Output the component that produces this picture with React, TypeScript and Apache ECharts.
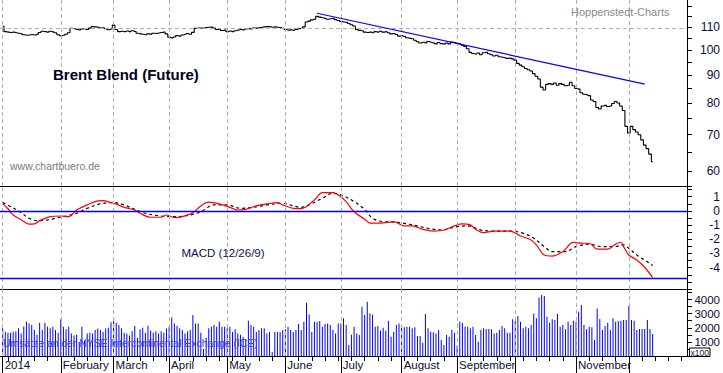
import React, { useEffect, useRef } from 'react';
import * as echarts from 'echarts';

const FONT = '"Liberation Sans", Arial, Helvetica, sans-serif';

// ---- axis texts ----
const monthLabels = ['2014', 'February', 'March', 'April', 'May', 'June', 'July', 'August', 'September', '', 'November', ''];
const priceTicks = [60, 65, 70, 75, 80, 85, 90, 95, 100, 105, 110, 115, 120];
const priceLabels = [60, 70, 80, 90, 100, 110];
const priceGridLevel = 110;
const macdLabels = [-4, -3, -2, -1, 0, 1];
const macdBands = [0, -4.75];
const volumeLabels = [1000, 2000, 3000, 4000];

// ---- Brent daily closes (USD) ----
const janClose = [110.5, 108.0, 107.8, 107.6, 107.8, 107.5, 107.3, 107.0, 106.6, 106.4, 106.5, 106.7, 106.5, 106.8, 107.6, 108.2, 108.0, 107.8, 108.2, 107.9, 107.5, 106.6];
const febClose = [106.2, 106.4, 106.8, 107.5, 109.5, 109.3, 109.0, 108.8, 109.2, 109.4, 109.0, 109.6, 110.3, 110.2, 110.0, 109.7, 109.8, 109.3, 108.9, 109.2];
const marClose = [111.0, 109.0, 108.0, 108.2, 108.0, 108.3, 108.0, 108.4, 108.1, 107.3, 107.0, 106.8, 106.6, 107.0, 106.9, 107.3, 107.2, 107.4, 107.6, 107.8, 107.0];
const aprClose = [105.5, 105.2, 105.6, 106.2, 106.0, 106.5, 106.8, 107.2, 106.8, 107.7, 109.5, 109.6, 109.7, 109.6, 109.9, 110.0, 110.1, 109.7, 109.0, 109.1, 108.5, 108.7];
const mayClose = [108.0, 108.3, 108.0, 108.4, 108.7, 109.0, 108.8, 109.2, 109.4, 109.2, 109.6, 109.6, 109.8, 110.0, 110.2, 110.3, 110.3, 110.0, 110.2, 110.0, 109.9, 109.5];
const junClose = [109.0, 108.7, 108.8, 108.6, 109.0, 109.3, 109.5, 110.2, 112.5, 112.9, 113.5, 113.8, 115.2, 114.8, 114.5, 114.2, 113.8, 114.0, 114.2, 113.6, 113.2];
const julClose = [112.8, 112.5, 112.3, 111.8, 111.2, 110.6, 109.0, 108.6, 108.4, 107.8, 107.6, 107.8, 107.5, 108.0, 107.8, 108.2, 107.8, 108.0, 107.5, 107.0, 107.2, 106.7, 106.0];
const augClose = [106.3, 105.8, 105.3, 105.0, 104.8, 104.2, 103.5, 103.0, 103.3, 103.0, 103.6, 103.3, 103.0, 102.6, 103.2, 102.7, 102.5, 103.0, 102.6, 103.4, 103.2];
const sepClose = [102.8, 102.5, 102.0, 101.5, 100.5, 99.0, 98.5, 98.3, 98.7, 98.0, 98.8, 99.0, 98.4, 98.0, 97.5, 97.8, 97.2, 97.0, 96.8, 96.5, 96.6, 96.3];
const octClose = [95.8, 94.5, 93.8, 93.2, 92.5, 92.0, 91.5, 90.5, 89.5, 88.5, 85.5, 84.5, 86.5, 86.8, 86.5, 87.0, 86.2, 86.8, 86.5, 86.0, 86.2, 87.3, 86.0];
const novClose = [85.0, 84.8, 83.5, 83.0, 82.8, 82.5, 81.0, 80.5, 78.5, 78.0, 79.0, 79.2, 78.8, 79.0, 79.8, 80.5, 80.0, 79.0, 77.5, 72.5];
const decClose = [70.5, 72.5, 71.5, 70.8, 70.0, 68.5, 67.0, 66.0, 64.5, 62.5];

// ---- daily volume (x100 contracts) ----
const janVol = [1960, 1720, 1650, 1650, 1720, 1750, 1960, 1600, 2100, 2430, 2310, 2190, 1840, 1500, 2360, 1840, 2360, 2080, 1960, 2080, 1840, 1650];
const febVol = [2600, 2080, 1890, 2080, 1600, 1450, 1500, 1000, 2080, 1100, 1600, 1650, 1600, 1850, 1950, 1850, 1700, 1950, 2000, 2400];
const marVol = [2730, 2350, 2190, 1960, 1650, 1600, 1450, 1750, 2150, 1300, 1900, 2000, 1650, 2150, 1800, 1650, 1750, 1600, 1750, 1650, 1950];
const aprVol = [2100, 2730, 2300, 2150, 1960, 1850, 1600, 1750, 1850, 2900, 2300, 2300, 1650, 500, 1300, 1960, 2080, 2190, 2080, 2430, 2080, 2080];
const mayVol = [1960, 2080, 1700, 1890, 1600, 1500, 1350, 1200, 2500, 2190, 2080, 1700, 1840, 1960, 1960, 1600, 1700, 300, 1700, 1700, 1700, 1840];
const junVol = [1890, 2080, 1840, 1700, 1840, 2260, 1840, 2430, 3770, 2950, 1700, 2430, 2430, 2480, 2080, 2260, 2300, 2190, 1840, 1600, 2300];
const julVol = [2300, 2670, 2190, 780, 1500, 2080, 1600, 1490, 3490, 2900, 3850, 3020, 2950, 2080, 2120, 1790, 2000, 1790, 2500, 1370, 1720, 2190, 2310];
const augVol = [2120, 2030, 2080, 2080, 1960, 2030, 1415, 1415, 945, 2970, 1960, 1720, 1675, 1600, 1840, 1130, 780, 1490, 1370, 1840, 1650];
const sepVol = [710, 2430, 2360, 2080, 2080, 1960, 2080, 1490, 1010, 1840, 1960, 1910, 1910, 1900, 1600, 1650, 1840, 2120, 1960, 1650, 1650, 2600];
const octVol = [2500, 2830, 2430, 1960, 2080, 1960, 2190, 3020, 2670, 4150, 4320, 4250, 2780, 2360, 2600, 2550, 2970, 2080, 2190, 1890, 2430, 2190, 2500];
const novVol = [2430, 3140, 3610, 2190, 1890, 2080, 2030, 1130, 3370, 2620, 1840, 2120, 2360, 1840, 2670, 2430, 2480, 2500, 2550, 2550];
const decVol = [3540, 2550, 2500, 1840, 1910, 1910, 1910, 2550, 1910, 1560];

// ---- MACD (12/26/9), read at trading-day indices ----
const macdDays = [0, 2, 4, 7, 10, 12, 14, 18, 22, 25, 28, 32, 36, 38, 41, 43, 46, 50, 52, 56, 60, 62, 65, 68, 72, 75, 78, 82, 86, 89, 92, 96, 100, 104, 106, 110, 113, 118, 121, 125, 128, 130, 133, 137, 139, 143, 148, 152, 155, 159, 163, 167, 171, 174, 177, 179, 182, 186, 192, 196, 200, 202, 205, 208, 212, 216, 220, 222, 225, 229, 232, 234, 235, 237, 240, 243, 246];
const macdValues = [0.53, 0.15, -0.29, -0.62, -0.94, -0.92, -0.69, -0.41, -0.36, -0.41, 0.06, 0.42, 0.70, 0.72, 0.58, 0.47, 0.25, 0.06, -0.17, -0.45, -0.45, -0.29, -0.48, -0.41, -0.13, 0.35, 0.61, 0.49, 0.25, 0.06, 0.11, 0.35, 0.49, 0.58, 0.42, 0.18, 0.16, 0.77, 1.28, 1.28, 1.0, 0.65, -0.06, -0.59, -0.87, -0.87, -0.76, -1.06, -1.06, -1.30, -1.42, -1.35, -1.06, -0.92, -0.99, -1.30, -1.53, -1.42, -1.42, -1.77, -2.05, -2.40, -3.11, -3.18, -2.87, -2.22, -2.28, -2.28, -2.70, -2.70, -2.33, -2.21, -2.52, -3.11, -3.46, -3.97, -4.70];
const signalDays = [0, 3, 7, 10, 13, 17, 20, 24, 28, 32, 37, 42, 46, 49, 54, 60, 66, 71, 75, 80, 85, 90, 95, 100, 106, 110, 113, 116, 121, 125, 129, 133, 137, 140, 144, 149, 154, 161, 166, 172, 176, 181, 186, 192, 197, 201, 205, 208, 213, 217, 222, 227, 231, 235, 237, 240, 244, 246];
const signalValues = [0.58, 0.30, -0.13, -0.52, -0.69, -0.64, -0.52, -0.36, -0.17, 0.18, 0.49, 0.58, 0.42, 0.18, -0.17, -0.36, -0.41, -0.29, -0.06, 0.42, 0.42, 0.18, 0.25, 0.42, 0.54, 0.35, 0.25, 0.42, 0.89, 1.24, 1.05, 0.65, 0.11, -0.52, -0.76, -0.80, -0.94, -1.23, -1.35, -1.11, -1.06, -1.35, -1.42, -1.42, -1.58, -1.93, -2.52, -2.87, -2.87, -2.52, -2.35, -2.52, -2.52, -2.40, -2.63, -3.11, -3.58, -3.85];

// ---- downtrend line ----
const trendFrom = { day: 119, price: 116.7 };
const trendTo = { day: 243, price: 86.6 };

const closes = [...janClose, ...febClose, ...marClose, ...aprClose, ...mayClose, ...junClose, ...julClose, ...augClose, ...sepClose, ...octClose, ...novClose, ...decClose];
const volumes = [...janVol, ...febVol, ...marVol, ...aprVol, ...mayVol, ...junVol, ...julVol, ...augVol, ...sepVol, ...octVol, ...novVol, ...decVol];

// trading calendar: business days from 2 Jan 2014 to 31 Dec 2014
const TOTAL_DAYS = 260;
function tradingDays(n: number): Date[] {
  const out: Date[] = [];
  const d = new Date(Date.UTC(2014, 0, 2));
  while (out.length < n) {
    const wd = d.getUTCDay();
    if (wd !== 0 && wd !== 6) out.push(new Date(d.getTime()));
    d.setUTCDate(d.getUTCDate() + 1);
  }
  return out;
}
const days = tradingDays(TOTAL_DAYS);
const monthStarts: number[] = [];
const mondays: number[] = [];
days.forEach((d, i) => {
  if (i === 0 || d.getUTCMonth() !== days[i - 1].getUTCMonth()) monthStarts.push(i);
  if (d.getUTCDay() === 1) mondays.push(i);
});

const L = (v: number) => Math.log10(v);
const LABEL_COLOR = '#0c0c34';
const GRID_LINE = { color: '#b4aab6', type: [4, 3] as any, width: 1 };

function buildOption(): any {
  const xMin = -1;
  const xMax = TOTAL_DAYS - 1;
  const monthLines = monthStarts.map((m) => ({ xAxis: m, lineStyle: GRID_LINE }));
  const baseX = {
    type: 'value', min: xMin, max: xMax,
    splitLine: { show: false }, axisTick: { show: false }, axisLabel: { show: false },
    axisLine: { show: true, onZero: false, lineStyle: { color: '#000', width: 1.2 } },
  };
  const yLabel = {
    color: LABEL_COLOR, fontSize: 12, fontFamily: FONT, align: 'right', margin: 33, hideOverlap: false,
  };
  const yLine = { show: true, onZero: false, lineStyle: { color: '#000', width: 1 } };
  const yTick = { show: true, length: 5, inside: false, lineStyle: { color: '#000' } };

  return {
    animation: false,
    backgroundColor: '#ffffff',
    grid: [
      { left: 0, right: 36, top: 0, height: 186, containLabel: false, outerBoundsMode: 'none' },
      { left: 0, right: 36, top: 186, height: 103, containLabel: false, outerBoundsMode: 'none' },
      { left: 0, right: 36, top: 289, height: 67, containLabel: false, outerBoundsMode: 'none' },
    ],
    xAxis: [
      { ...baseX, gridIndex: 0, position: 'bottom' },
      { ...baseX, gridIndex: 1, position: 'bottom' },
      {
        ...baseX, gridIndex: 2, position: 'bottom',
        axisTick: { show: true, customValues: monthStarts, length: 17, lineStyle: { color: '#000' } },
        axisLabel: {
          show: true, customValues: monthStarts, align: 'left', margin: 3, padding: [0, 0, 0, 2],
          color: LABEL_COLOR, fontSize: 11.5, fontFamily: FONT, hideOverlap: false,
          formatter: (v: number) => {
            const k = monthStarts.indexOf(Math.round(v));
            return k >= 0 ? monthLabels[k] : '';
          },
        },
      },
      {
        ...baseX, gridIndex: 2, position: 'bottom',
        axisLine: { show: false, onZero: false },
        axisTick: { show: true, customValues: mondays, length: 5, lineStyle: { color: '#000' } },
      },
    ],
    yAxis: [
      {
        type: 'value', gridIndex: 0, position: 'right', min: L(56.4), max: L(123.4),
        splitLine: { show: false }, axisLine: yLine,
        axisTick: { ...yTick, customValues: priceTicks.map(L) },
        axisLabel: { ...yLabel, customValues: priceLabels.map(L), formatter: (v: number) => String(Math.round(Math.pow(10, v))) },
      },
      {
        type: 'value', gridIndex: 1, position: 'right', min: -5.5, max: 1.75, interval: 0.5,
        splitLine: { show: false }, axisLine: yLine, axisTick: yTick,
        axisLabel: {
          ...yLabel, showMinLabel: true, showMaxLabel: true,
          formatter: (v: number) => (macdLabels.includes(v) ? String(v) : ''),
        },
      },
      {
        type: 'value', gridIndex: 2, position: 'right', min: 0, max: 4750, interval: 500,
        splitLine: { show: false }, axisLine: yLine, axisTick: yTick,
        axisLabel: { ...yLabel, fontSize: 11.5, formatter: (v: number) => (volumeLabels.includes(v) ? String(v) : '') },
      },
    ],
    series: [
      {
        type: 'line', name: 'Brent', xAxisIndex: 0, yAxisIndex: 0, step: 'middle',
        data: closes.map((c, i) => [i, L(c)]), showSymbol: false, symbol: 'none',
        lineStyle: { color: '#000', width: 1.1 }, z: 3,
        markLine: {
          silent: true, symbol: ['none', 'none'], label: { show: false }, animation: false,
          data: [
            ...monthLines,
            { yAxis: L(priceGridLevel), lineStyle: GRID_LINE },
            [
              { coord: [trendFrom.day, L(trendFrom.price)], lineStyle: { color: '#0000ff', width: 1.2, type: 'solid' } },
              { coord: [trendTo.day, L(trendTo.price)] },
            ],
          ],
        },
      },
      {
        type: 'line', name: 'MACD', xAxisIndex: 1, yAxisIndex: 1, smooth: 0.35,
        data: macdDays.map((d, i) => [d, macdValues[i]]), showSymbol: false, symbol: 'none',
        lineStyle: { color: '#ff0000', width: 1.2 }, z: 4,
        markLine: {
          silent: true, symbol: ['none', 'none'], label: { show: false }, animation: false,
          data: [
            ...monthLines,
            ...macdBands.map((b) => ({ yAxis: b, lineStyle: { color: '#0000ff', width: 1.3, type: 'solid' } })),
          ],
        },
      },
      {
        type: 'line', name: 'Signal', xAxisIndex: 1, yAxisIndex: 1, smooth: 0.35,
        data: signalDays.map((d, i) => [d, signalValues[i]]), showSymbol: false, symbol: 'none',
        lineStyle: { color: '#000', width: 1.2, type: [3, 3] }, z: 3,
      },
      {
        type: 'bar', name: 'Volume', xAxisIndex: 2, yAxisIndex: 2, barWidth: 1,
        data: volumes.map((v, i) => [i, v]), itemStyle: { color: '#0000ff' }, z: 3,
        markLine: {
          silent: true, symbol: ['none', 'none'], label: { show: false }, animation: false,
          data: monthLines,
        },
      },
    ],
    graphic: [
      { type: 'text', x: 53, y: 74, z: 100, style: { text: 'Brent Blend (Future)', fill: '#000018', fontSize: 15, fontWeight: 'bold', fontFamily: FONT, verticalAlign: 'middle', align: 'left' } },
      { type: 'text', x: 571, y: 11.5, z: 100, style: { text: 'Hoppenstedt-Charts', fill: '#8a8a8a', fontSize: 11, fontFamily: FONT, verticalAlign: 'middle', align: 'left' } },
      { type: 'text', x: 10, y: 166, z: 100, style: { text: 'www.chartbuero.de', fill: '#7a7a7a', fontSize: 10.5, fontFamily: FONT, verticalAlign: 'middle', align: 'left' } },
      { type: 'text', x: 181.5, y: 252.5, z: 100, style: { text: 'MACD (12/26/9)', fill: '#10104a', fontSize: 11.5, fontFamily: FONT, verticalAlign: 'middle', align: 'left' } },
      { type: 'text', x: 3, y: 343.5, z: 100, style: { text: 'Umsätze an der NYSE Intercontinental Exchange (ICE)', fill: '#4040d8', fontSize: 10.4, fontFamily: FONT, verticalAlign: 'middle', align: 'left' } },
      { type: 'rect', z: 100, shape: { x: 689.5, y: 348, width: 20.5, height: 8.5 }, style: { fill: '#ffffff', stroke: '#000', lineWidth: 1 } },
      { type: 'text', x: 699.75, y: 352.5, z: 101, style: { text: 'x100', fill: '#10103a', fontSize: 8.5, fontFamily: FONT, verticalAlign: 'middle', align: 'center' } },
    ],
  };
}

export default function App() {
  const ref = useRef<HTMLDivElement>(null);
  useEffect(() => {
    if (!ref.current) return;
    const chart = echarts.init(ref.current, null, { renderer: 'svg' });
    chart.setOption(buildOption());
    return () => chart.dispose();
  }, []);
  return (
    <div
      ref={ref}
      style={{ position: 'absolute', left: 0, top: 0, width: 723, height: 373, background: '#ffffff' }}
    />
  );
}
